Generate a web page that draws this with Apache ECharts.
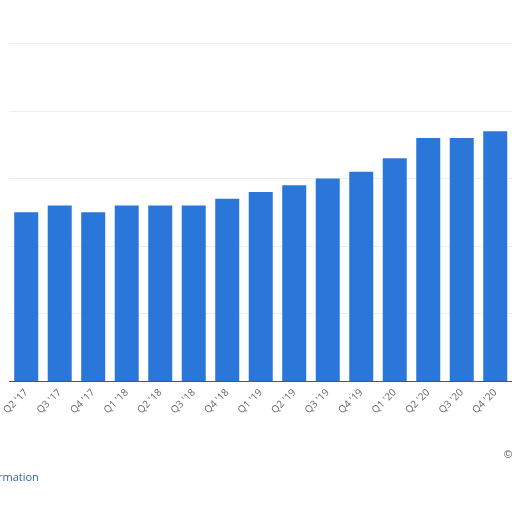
<!DOCTYPE html><html><head><meta charset="utf-8"><script src="https://cdn.jsdelivr.net/npm/echarts@6/dist/echarts.min.js"></script></head><body style="margin:0"><div id="c" style="width:512px;height:512px"></div><script>
const categories=["Q2 '17","Q3 '17","Q4 '17","Q1 '18","Q2 '18","Q3 '18","Q4 '18","Q1 '19","Q2 '19","Q3 '19","Q4 '19","Q1 '20","Q2 '20","Q3 '20","Q4 '20"];
const values=[2.5,2.6,2.5,2.6,2.6,2.6,2.7,2.8,2.9,3.0,3.1,3.3,3.6,3.6,3.7];
const ch=echarts.init(document.getElementById('c'));
ch.setOption({backgroundColor:'#fff',animation:false,
grid:{left:4.8,right:-9,top:43.5,bottom:131},
xAxis:{type:'category',data:categories,axisLine:{lineStyle:{color:'#555'}},axisTick:{show:false},
 axisLabel:{rotate:45,color:'#666',fontSize:10,fontFamily:'Open Sans',margin:10}},
yAxis:{type:'value',min:0,max:5,interval:1,axisLabel:{show:false},axisLine:{show:false},axisTick:{show:false},
 splitLine:{lineStyle:{color:'#ddd',type:'dotted'}}},
series:[{type:'bar',data:values,barWidth:24,itemStyle:{color:'#2a77d9'}}],
graphic:[{type:'text',left:-2,top:472,style:{text:'rmation',fill:'#1a6fb5',fontSize:11,fontFamily:'Open Sans'}},
{type:'text',left:504,top:449,style:{text:'©',fill:'#555',fontSize:11}}]});
</script></body></html>
